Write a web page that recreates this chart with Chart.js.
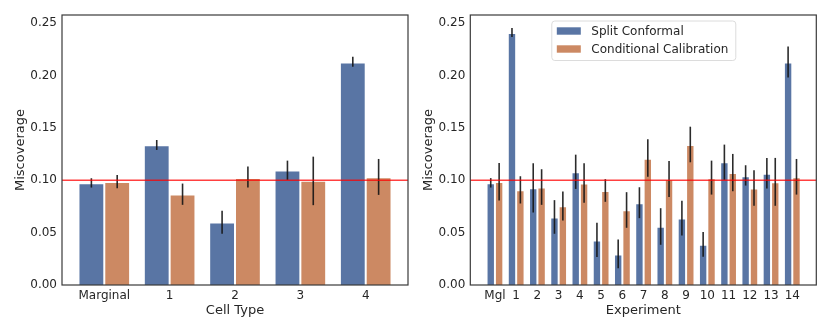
<!DOCTYPE html>
<html>
<head>
<meta charset="utf-8">
<script src="https://cdn.jsdelivr.net/npm/chart.js@4.4.0/dist/chart.umd.min.js"></script>
<style>
    html, body { margin: 0; padding: 0; background: #fff; }
    #wrap { position: relative; width: 831px; height: 332px; }
    .panel { position: absolute; top: 0; }
</style>
</head>
<body>
<div id="wrap">
    <canvas id="cell-chart" class="panel" style="left:0" width="415" height="332"></canvas>
    <canvas id="exp-chart" class="panel" style="left:415px" width="416" height="332"></canvas>
</div>
<script>
// ---- data ----
const cellLabels = ['Marginal', '1', '2', '3', '4'];
const cellSplit = [0.0971, 0.1333, 0.0597, 0.1092, 0.2124];
const cellSplitLo = [0.0930, 0.1289, 0.0489, 0.1003, 0.2083];
const cellSplitHi = [0.1019, 0.1384, 0.0708, 0.1187, 0.2178];
const cellCond = [0.0984, 0.0863, 0.1022, 0.0994, 0.1029];
const cellCondLo = [0.0924, 0.0765, 0.0930, 0.0762, 0.0860];
const cellCondHi = [0.1050, 0.0968, 0.1130, 0.1225, 0.1203];

const expLabels = ['Mgl', '1', '2', '3', '4', '5', '6', '7', '8', '9', '10', '11', '12', '13', '14'];
const expSplit = [0.0971, 0.2406, 0.0924, 0.0644, 0.1076, 0.0425, 0.0292, 0.0781, 0.0556, 0.0635, 0.0384, 0.1171, 0.1038, 0.1063, 0.2124];
const expSplitLo = [0.0930, 0.2368, 0.0692, 0.0489, 0.0917, 0.0267, 0.0159, 0.0638, 0.0384, 0.0473, 0.0270, 0.1003, 0.0949, 0.0921, 0.1981];
const expSplitHi = [0.1020, 0.2454, 0.1162, 0.0810, 0.1244, 0.0594, 0.0435, 0.0933, 0.0733, 0.0803, 0.0505, 0.1340, 0.1143, 0.1213, 0.2276];
const expCond = [0.0984, 0.0905, 0.0930, 0.0752, 0.0968, 0.0898, 0.0714, 0.1206, 0.1010, 0.1337, 0.1019, 0.1070, 0.0921, 0.0981, 0.1029];
const expCondLo = [0.0806, 0.0778, 0.0765, 0.0616, 0.0784, 0.0794, 0.0546, 0.1032, 0.0841, 0.1171, 0.0863, 0.0895, 0.0756, 0.0756, 0.0863];
const expCondHi = [0.1165, 0.1038, 0.1105, 0.0892, 0.1162, 0.1010, 0.0886, 0.1390, 0.1184, 0.1511, 0.1187, 0.1251, 0.1095, 0.1213, 0.1203];

const target = 0.10;
const yTicks = [0, 0.05, 0.10, 0.15, 0.20, 0.25];

const BLUE = '#5975a4';
const ORANGE = '#cc8963';
const FONT = "'DejaVu Sans', sans-serif";
const TEXT = '#262626';

// error bars + target line, drawn on top of the bars
const overlayPlugin = {
    id: 'overlay',
    afterDatasetsDraw(chart) {
        const ctx = chart.ctx;
        const y = chart.scales.y;
        const area = chart.chartArea;
        ctx.save();
        ctx.strokeStyle = 'rgba(20,20,20,0.9)';
        ctx.lineWidth = 1.6;
        chart.data.datasets.forEach((ds, di) => {
            const meta = chart.getDatasetMeta(di);
            meta.data.forEach((bar, i) => {
                ctx.beginPath();
                ctx.moveTo(bar.x, y.getPixelForValue(ds.errLo[i]));
                ctx.lineTo(bar.x, y.getPixelForValue(ds.errHi[i]));
                ctx.stroke();
            });
        });
        const ty = y.getPixelForValue(target);
        ctx.strokeStyle = 'rgba(255,0,0,0.75)';
        ctx.lineWidth = 1.5;
        ctx.beginPath();
        ctx.moveTo(area.left, ty);
        ctx.lineTo(area.right, ty);
        ctx.stroke();
        ctx.restore();
    },
    afterDraw(chart) {
        const ctx = chart.ctx;
        const a = chart.chartArea;
        ctx.save();
        ctx.strokeStyle = '#3a3a3a';
        ctx.lineWidth = 1.2;
        ctx.strokeRect(a.left, a.top, a.right - a.left, a.bottom - a.top);
        ctx.restore();
    }
};

// legend box inside the plot area (matplotlib style)
const boxLegendPlugin = {
    id: 'boxLegend',
    afterDraw(chart, args, opts) {
        if (!opts.show) return;
        const ctx = chart.ctx;
        const a = chart.chartArea;
        const x0 = a.left + 81.5, y0 = a.top + 6;
        const w = 184, h = 39.5;
        ctx.save();
        ctx.fillStyle = 'rgba(255,255,255,0.85)';
        ctx.strokeStyle = '#dcdcdc';
        ctx.lineWidth = 1;
        ctx.beginPath();
        ctx.roundRect(x0, y0, w, h, 3);
        ctx.fill();
        ctx.stroke();
        ctx.font = `12px ${FONT}`;
        ctx.textBaseline = 'middle';
        ctx.fillStyle = TEXT;
        chart.data.datasets.forEach((ds, i) => {
            const cy = y0 + 10 + i * 18;
            ctx.fillStyle = ds.backgroundColor;
            ctx.fillRect(x0 + 5, cy - 3.7, 24, 7.4);
            ctx.fillStyle = TEXT;
            ctx.fillText(ds.label, x0 + 39.5, cy + 0.5);
        });
        ctx.restore();
    }
};

function makeChart(id, cfg) {
    const toPoints = vals => vals.map((v, i) => ({ x: i, y: v }));
    return new Chart(document.getElementById(id), {
        type: 'bar',
        data: {
            datasets: [
                {
                    label: 'Split Conformal',
                    data: toPoints(cfg.split),
                    errLo: cfg.splitLo,
                    errHi: cfg.splitHi,
                    backgroundColor: BLUE,
                    borderColor: 'rgba(255,255,255,0.55)',
                    borderWidth: 1,
                },
                {
                    label: 'Conditional Calibration',
                    data: toPoints(cfg.cond),
                    errLo: cfg.condLo,
                    errHi: cfg.condHi,
                    backgroundColor: ORANGE,
                    borderColor: 'rgba(255,255,255,0.55)',
                    borderWidth: 1,
                },
            ],
        },
        options: {
            responsive: false,
            animation: false,
            devicePixelRatio: 1,
            categoryPercentage: 0.79,
            barPercentage: 1.0,
            layout: { padding: { left: 0, right: cfg.padRight, top: 15, bottom: 0 } },
            plugins: {
                legend: { display: false },
                tooltip: { enabled: false },
                boxLegend: { show: cfg.legend },
            },
            scales: {
                x: {
                    type: 'linear',
                    offset: false,
                    min: cfg.xMin,
                    max: cfg.xMax,
                    afterFit: axis => { axis.height = 47; },
                    afterBuildTicks: axis => {
                        axis.ticks = cfg.labels.map((_, i) => ({ value: i }));
                    },
                    ticks: {
                        color: TEXT,
                        font: { size: 12, family: FONT },
                        padding: 4,
                        maxRotation: 0,
                        autoSkip: false,
                        callback: v => cfg.labels[v],
                    },
                    grid: { display: false, drawTicks: false },
                    border: { display: false },
                    title: {
                        display: true,
                        text: cfg.xTitle,
                        color: TEXT,
                        font: { size: 13, family: FONT },
                        padding: { top: 0, bottom: 13.5 },
                    },
                },
                y: {
                    min: 0,
                    max: 0.2577,
                    afterFit: axis => { axis.width = cfg.yWidth; },
                    afterBuildTicks: axis => {
                        axis.ticks = yTicks.map(v => ({ value: v }));
                    },
                    ticks: {
                        color: TEXT,
                        font: { size: 12, family: FONT },
                        padding: 5,
                        callback: v => v.toFixed(2),
                    },
                    grid: { display: false, drawTicks: false },
                    border: { display: false },
                    title: {
                        display: true,
                        text: 'Miscoverage',
                        color: TEXT,
                        font: { size: 13, family: FONT },
                        padding: { top: cfg.yTitlePad, bottom: 0 },
                    },
                },
            },
        },
        plugins: [overlayPlugin, boxLegendPlugin],
    });
}

makeChart('cell-chart', {
    labels: cellLabels,
    split: cellSplit, splitLo: cellSplitLo, splitHi: cellSplitHi,
    cond: cellCond, condLo: cellCondLo, condHi: cellCondHi,
    xMin: -0.647, xMax: 4.647,
    xTitle: 'Cell Type',
    yWidth: 62, yTitlePad: 13, padRight: 7,
    legend: false,
});

makeChart('exp-chart', {
    labels: expLabels,
    split: expSplit, splitLo: expSplitLo, splitHi: expSplitHi,
    cond: expCond, condLo: expCondLo, condHi: expCondHi,
    xMin: -1.16, xMax: 15.13,
    xTitle: 'Experiment',
    yWidth: 55.3, yTitlePad: 5.5, padRight: 14.7,
    legend: true,
});
</script>
</body>
</html>
